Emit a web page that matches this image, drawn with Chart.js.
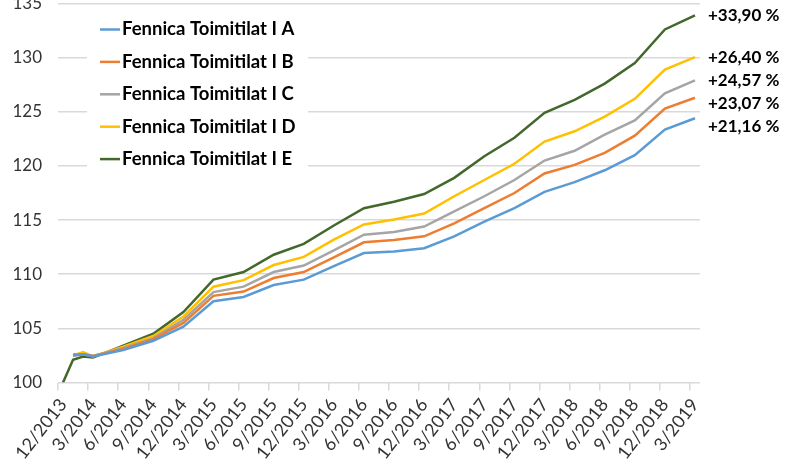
<!DOCTYPE html>
<html>
<head>
<meta charset="utf-8">
<script src="https://cdn.jsdelivr.net/npm/chart.js@4.4.1/dist/chart.umd.min.js"></script>
<style>
	html, body { margin: 0; padding: 0; background: #fff; }
</style>
</head>
<body>
<canvas id="chart" width="787" height="465"></canvas>
<script>
// month index counted from 12/2013; quarterly after the first months
const months = [0, 1, 2, 3, 6, 9, 12, 15, 18, 21, 24, 27, 30, 33, 36, 39, 42, 45, 48, 51, 54, 57, 60, 63];

const tickLabels = [
	"12/2013", "3/2014", "6/2014", "9/2014", "12/2014", "3/2015", "6/2015", "9/2015",
	"12/2015", "3/2016", "6/2016", "9/2016", "12/2016", "3/2017", "6/2017", "9/2017",
	"12/2017", "3/2018", "6/2018", "9/2018", "12/2018", "3/2019",
];

const seriesNames = [
	"Fennica Toimitilat I A",
	"Fennica Toimitilat I B",
	"Fennica Toimitilat I C",
	"Fennica Toimitilat I D",
	"Fennica Toimitilat I E",
];
const seriesColors = ["#5b9bd5", "#ed7d31", "#a5a5a5", "#ffc000", "#43682b"];
const endLabels = ["+21,16 %", "+23,07 %", "+24,57 %", "+26,40 %", "+33,90 %"];

const valuesA = [null, 102.5, 102.6, 102.4, 103.0, 103.85, 105.15, 107.5, 107.9, 109.0, 109.5, 110.75, 111.95, 112.1, 112.4, 113.5, 114.85, 116.1, 117.6, 118.5, 119.6, 121.0, 123.35, 124.4];
const valuesB = [null, 102.5, 102.6, 102.45, 103.1, 104.0, 105.5, 108.0, 108.4, 109.65, 110.2, 111.55, 112.95, 113.15, 113.5, 114.7, 116.1, 117.5, 119.3, 120.1, 121.2, 122.8, 125.3, 126.3];
const valuesC = [null, 102.6, 102.6, 102.45, 103.2, 104.1, 105.8, 108.35, 108.85, 110.2, 110.8, 112.2, 113.65, 113.9, 114.4, 115.8, 117.2, 118.7, 120.5, 121.4, 122.9, 124.2, 126.7, 127.9];
const valuesD = [null, 102.5, 102.8, 102.4, 103.3, 104.3, 106.1, 108.85, 109.45, 110.85, 111.6, 113.2, 114.6, 115.05, 115.6, 117.2, 118.7, 120.2, 122.25, 123.2, 124.55, 126.2, 128.9, 130.05];
const valuesE = [100, 102.1, 102.4, 102.3, 103.4, 104.5, 106.5, 109.5, 110.2, 111.8, 112.8, 114.5, 116.1, 116.7, 117.4, 118.9, 120.9, 122.6, 124.9, 126.1, 127.6, 129.5, 132.6, 133.9];

const allValues = [valuesA, valuesB, valuesC, valuesD, valuesE];

Chart.defaults.font.family = "Lato, 'Open Sans', sans-serif";
Chart.defaults.color = "#404040";

// legend drawn inside the plot, on a white box over the gridlines
const insideLegend = {
	id: "insideLegend",
	beforeDatasetsDraw(chart) {
		const { ctx, chartArea } = chart;
		const x0 = chartArea.left + 29;
		const y0 = chartArea.top + 26;
		const rowH = 32.4;
		ctx.save();
		ctx.fillStyle = "#fff";
		ctx.fillRect(x0, y0 - 17, 221, rowH * 4 + 34);
		ctx.font = "bold 18.5px Lato";
		ctx.textBaseline = "middle";
		chart.data.datasets.forEach((ds, i) => {
			const y = y0 + i * rowH;
			ctx.strokeStyle = ds.borderColor;
			ctx.lineWidth = 2.5;
			ctx.beginPath();
			ctx.moveTo(x0 + 13, y);
			ctx.lineTo(x0 + 33, y);
			ctx.stroke();
			ctx.fillStyle = "#000";
			ctx.fillText(ds.label, x0 + 35, y);
		});
		ctx.restore();
	},
};

// percentage labels at the right end of each line, pushed apart if they collide
const endLabelPlugin = {
	id: "endLabels",
	afterDatasetsDraw(chart) {
		const { ctx, chartArea } = chart;
		const items = chart.data.datasets.map((ds, i) => {
			const pts = chart.getDatasetMeta(i).data;
			return { text: endLabels[i], y: pts[pts.length - 1].y };
		}).sort((a, b) => a.y - b.y);
		for (let i = 1; i < items.length; i++) {
			items[i].y = Math.max(items[i].y, items[i - 1].y + 23);
		}
		ctx.save();
		ctx.font = "bold 17px Lato";
		ctx.fillStyle = "#000";
		ctx.textBaseline = "middle";
		items.forEach((it) => ctx.fillText(it.text, chartArea.right + 8, it.y));
		ctx.restore();
	},
};

const noPad = (axis) => {
	axis.paddingTop = 0;
	axis.paddingBottom = 0;
	axis.paddingLeft = 0;
	axis.paddingRight = 0;
};

new Chart(document.getElementById("chart"), {
	type: "line",
	data: {
		datasets: seriesNames.map((name, i) => ({
			label: name,
			data: months.map((m, j) => ({ x: m, y: allValues[i][j] })).filter((p) => p.y !== null),
			borderColor: seriesColors[i],
			backgroundColor: seriesColors[i],
			borderWidth: 2.5,
			pointRadius: 0,
			tension: 0,
		})),
	},
	options: {
		responsive: false,
		animation: false,
		layout: {
			autoPadding: false,
			padding: { left: 12, right: 87, top: 3.5, bottom: 0 },
		},
		plugins: {
			legend: { display: false },
			tooltip: { enabled: false },
		},
		scales: {
			x: {
				type: "linear",
				min: -0.5,
				max: 63.5,
				afterBuildTicks: (axis) => {
					axis.ticks = tickLabels.map((_, i) => ({ value: i * 3 - 0.5 }));
				},
				afterFit: (axis) => { axis.height = 82.5; noPad(axis); },
				ticks: {
					autoSkip: false,
					maxRotation: 52,
					minRotation: 52,
					labelOffset: 5,
					padding: 4,
					color: "#333",
					font: { size: 18 },
					callback: (v, i) => tickLabels[i],
				},
				grid: {
					drawOnChartArea: false,
					tickLength: 8,
					tickColor: "#d9d9d9",
					lineWidth: 1.5,
				},
				border: { display: false },
			},
			y: {
				min: 100,
				max: 135,
				afterFit: (axis) => { axis.width = 46; noPad(axis); },
				ticks: {
					stepSize: 5,
					padding: 16,
					color: "#333",
					font: { size: 17 },
				},
				grid: {
					color: "#d9d9d9",
					lineWidth: 1.5,
					drawTicks: false,
				},
				border: { display: false },
			},
		},
	},
	plugins: [insideLegend, endLabelPlugin],
});
</script>
</body>
</html>
